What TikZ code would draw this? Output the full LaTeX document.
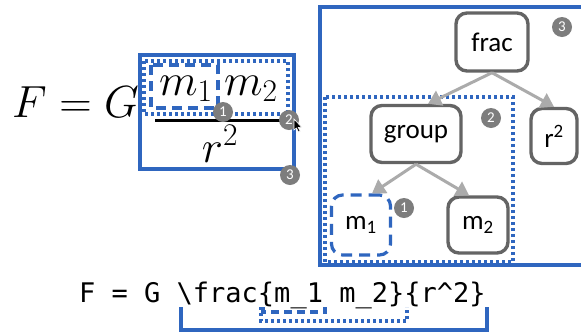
\RequirePackage{fix-cm}
\documentclass[tikz,border=0pt]{standalone}
\usepackage{fontspec}
\newfontfamily\arbrefont{Carlito}
\newfontfamily\codefont{DejaVu Sans Mono}
\usetikzlibrary{arrows.meta}
\definecolor{bleu}{HTML}{2F66BF}
\definecolor{grisnoeud}{HTML}{646464}
\definecolor{grisfleche}{HTML}{ABABAB}
\definecolor{grispastille}{HTML}{7D7D7D}
\tikzset{
  arbre/.style={rectangle, rounded corners=11pt, draw=grisnoeud, line width=3.4pt,
    fill=white, text=black, font=\arbrefont\fontsize{27}{30}\selectfont, inner sep=0pt},
  arbresel/.style={arbre, draw=bleu, line width=3.2pt, dash pattern=on 11pt off 7pt},
  pastille/.style={circle, fill=grispastille, text=white, minimum size=20pt,
    inner sep=0pt, font=\arbrefont\fontsize{15}{15}\selectfont},
  fleche/.style={-{Triangle[length=13pt, width=16pt]}, line width=3pt, color=grisfleche},
  cadre/.style={draw=bleu, line width=3.2pt},
  cadrepoint/.style={draw=bleu, line width=3.2pt, dash pattern=on 3pt off 3pt},
  cadretiret/.style={draw=bleu, line width=3.2pt, dash pattern=on 10pt off 6pt},
  formule/.style={inner sep=0pt, font=\fontsize{45}{50}\selectfont},
  code/.style={inner sep=0pt, font=\codefont\fontsize{27}{30}\selectfont},
}

\begin{document}
\begin{tikzpicture}[x=1pt, y=-1pt]
    \useasboundingbox[fill=white] (0,0) rectangle (581,333);

    % formule
    \node[formule, anchor=base west] (fg) at (12,117) {$F=G$};
    \node[formule, anchor=base west] (num1) at (159,95) {$m_1$};
    \node[formule, anchor=base west] (num2) at (224,95) {$m_2$};
    \node[formule, anchor=base] (den) at (220,162) {$r^2$};
    \draw[line width=3pt] (155,120) -- (280,120);

    \draw[cadre] (140,55) rectangle (294,169);
    \draw[cadrepoint] (144,61) rectangle (288,114);
    \draw[cadretiret] (151,65) rectangle (218,108);
    \node[pastille] (fp1) at (223,112) {1};
    \node[pastille] (fp2) at (289,120) {2};
    \node[pastille] (fp3) at (290,175) {3};
    \fill[black, draw=white, line width=0.6pt] (294,119) -- (294,130) -- (296.5,128)
      -- (298.5,132) -- (300.2,131.2) -- (298.2,127.4) -- (301.6,127.2) -- cycle;

    % arbre
    \draw[cadre] (320,7) rectangle (585,265);
    \draw[cadrepoint] (325,97) rectangle (513,262);

    \node[arbre, minimum width=72pt, minimum height=58pt] (frac) at (492,42) {frac};
    \node[arbre, minimum width=90pt, minimum height=57pt] (group) at (416,134) {group};
    \node[arbre, minimum width=46pt, minimum height=55pt] (r2) at (554,136) {r\textsuperscript{2}};
    \node[arbresel, minimum width=59pt, minimum height=60pt] (m1) at (361,225) {m\textsubscript{1}};
    \node[arbre, minimum width=60pt, minimum height=56pt] (m2) at (478,225) {m\textsubscript{2}};

    \node[pastille] (ap3) at (562,27) {3};
    \node[pastille] (ap2) at (491,118) {2};
    \node[pastille] (ap1) at (404,208) {1};

    \draw[fleche] (frac.south) -- ([xshift=12pt]group.north);
    \draw[fleche] (frac.south) -- (r2.north);
    \draw[fleche] (group.south) -- ([xshift=11pt]m1.north);
    \draw[fleche] (group.south) -- ([xshift=-9pt]m2.north);

    % code source
    \node[code, anchor=base west] (source) at (79,302)
      {F = G \textbackslash frac\{m\_1 m\_2\}\{r\textasciicircum 2\}};
    \draw[cadre] (181,307) -- (181,330) -- (487,330) -- (487,307);
    \draw[cadrepoint] (261,307) -- (261,321) -- (407,321) -- (407,307);
    \draw[cadretiret, dash pattern=on 8pt off 5pt] (263,307) -- (263,312) -- (325,312) -- (325,307);
\end{tikzpicture}
\end{document}
